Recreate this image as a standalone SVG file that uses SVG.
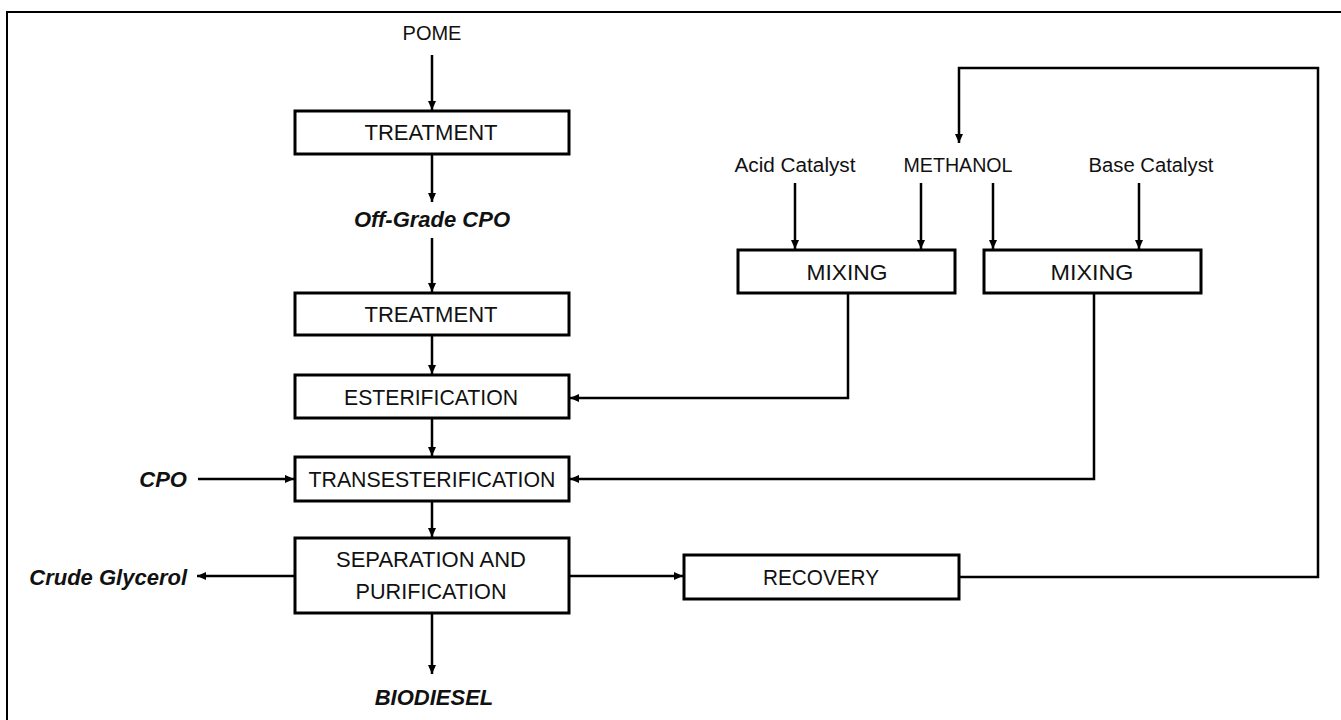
<svg xmlns="http://www.w3.org/2000/svg" width="1341" height="720" viewBox="0 0 1341 720">
<style>
.box{fill:#fff;stroke:#000;stroke-width:3}
.lbl{font-family:"Liberation Sans",Arial,sans-serif;font-size:22px;fill:#111;text-anchor:middle}
.sm{font-family:"Liberation Sans",Arial,sans-serif;font-size:20px;fill:#111;text-anchor:middle}
.bi{font-family:"Liberation Sans",Arial,sans-serif;font-size:22px;font-weight:bold;font-style:italic;fill:#111}
.ln{fill:none;stroke:#000;stroke-width:2.5}
</style>
<defs>
<marker id="ah" markerUnits="userSpaceOnUse" markerWidth="10" markerHeight="10" refX="9" refY="5" orient="auto">
<path d="M0,1 L9,5 L0,9 z" fill="#000"/>
</marker>
</defs>
<rect width="1341" height="720" fill="#fff"/>
<path d="M7,720 V12 H1341" fill="none" stroke="#000" stroke-width="2"/>

<g id="connectors">
<path class="ln" d="M432,55 V110" marker-end="url(#ah)"/>
<path class="ln" d="M432,154 V202" marker-end="url(#ah)"/>
<path class="ln" d="M432,238 V292" marker-end="url(#ah)"/>
<path class="ln" d="M432,335 V374" marker-end="url(#ah)"/>
<path class="ln" d="M432,418 V456" marker-end="url(#ah)"/>
<path class="ln" d="M432,501 V537" marker-end="url(#ah)"/>
<path class="ln" d="M432,613 V674" marker-end="url(#ah)"/>
<path class="ln" d="M198,479 H294" marker-end="url(#ah)"/>
<path class="ln" d="M295,576 H197" marker-end="url(#ah)"/>
<path class="ln" d="M569,576 H683" marker-end="url(#ah)"/>
<path class="ln" d="M959,577 H1318 V68 H959 V143" marker-end="url(#ah)"/>
<path class="ln" d="M795,183 V249" marker-end="url(#ah)"/>
<path class="ln" d="M921,183 V249" marker-end="url(#ah)"/>
<path class="ln" d="M993,183 V249" marker-end="url(#ah)"/>
<path class="ln" d="M1139,183 V249" marker-end="url(#ah)"/>
<path class="ln" d="M848,293 V398 H570" marker-end="url(#ah)"/>
<path class="ln" d="M1094,293 V479 H570" marker-end="url(#ah)"/>
</g>

<g id="pome"><text class="sm" x="432" y="40">POME</text></g>
<g id="treatment1"><rect class="box" x="295" y="111" width="274" height="43"/><text class="lbl" x="431" y="140" textLength="133" lengthAdjust="spacingAndGlyphs">TREATMENT</text></g>
<g id="offgrade"><text class="bi" x="432" y="227" text-anchor="middle">Off-Grade CPO</text></g>
<g id="treatment2"><rect class="box" x="295" y="293" width="274" height="42"/><text class="lbl" x="431" y="322" textLength="133" lengthAdjust="spacingAndGlyphs">TREATMENT</text></g>
<g id="esterification"><rect class="box" x="295" y="375" width="274" height="43"/><text class="lbl" x="431" y="405" textLength="174" lengthAdjust="spacingAndGlyphs">ESTERIFICATION</text></g>
<g id="transesterification"><rect class="box" x="295" y="457" width="274" height="44"/><text class="lbl" x="432" y="487" textLength="247" lengthAdjust="spacingAndGlyphs">TRANSESTERIFICATION</text></g>
<g id="separation"><rect class="box" x="295" y="538" width="274" height="75"/><text class="lbl" x="431" y="567" textLength="190" lengthAdjust="spacingAndGlyphs">SEPARATION AND</text><text class="lbl" x="431" y="599" textLength="151" lengthAdjust="spacingAndGlyphs">PURIFICATION</text></g>
<g id="biodiesel"><text class="bi" x="434" y="705" text-anchor="middle">BIODIESEL</text></g>
<g id="cpo"><text class="bi" x="187" y="487" text-anchor="end">CPO</text></g>
<g id="glycerol"><text class="bi" x="187" y="585" text-anchor="end">Crude Glycerol</text></g>
<g id="recovery"><rect class="box" x="684" y="555" width="275" height="44"/><text class="lbl" x="821" y="585" textLength="116" lengthAdjust="spacingAndGlyphs">RECOVERY</text></g>
<g id="acid"><text class="sm" x="795" y="172" textLength="121" lengthAdjust="spacingAndGlyphs">Acid Catalyst</text></g>
<g id="methanol"><text class="sm" x="958" y="172" textLength="109" lengthAdjust="spacingAndGlyphs">METHANOL</text></g>
<g id="base"><text class="sm" x="1151" y="172" textLength="125" lengthAdjust="spacingAndGlyphs">Base Catalyst</text></g>
<g id="mixing1"><rect class="box" x="738" y="250" width="217" height="43"/><text class="lbl" x="847" y="280" textLength="81" lengthAdjust="spacingAndGlyphs">MIXING</text></g>
<g id="mixing2"><rect class="box" x="984" y="250" width="217" height="43"/><text class="lbl" x="1092" y="280" textLength="83" lengthAdjust="spacingAndGlyphs">MIXING</text></g>
</svg>
